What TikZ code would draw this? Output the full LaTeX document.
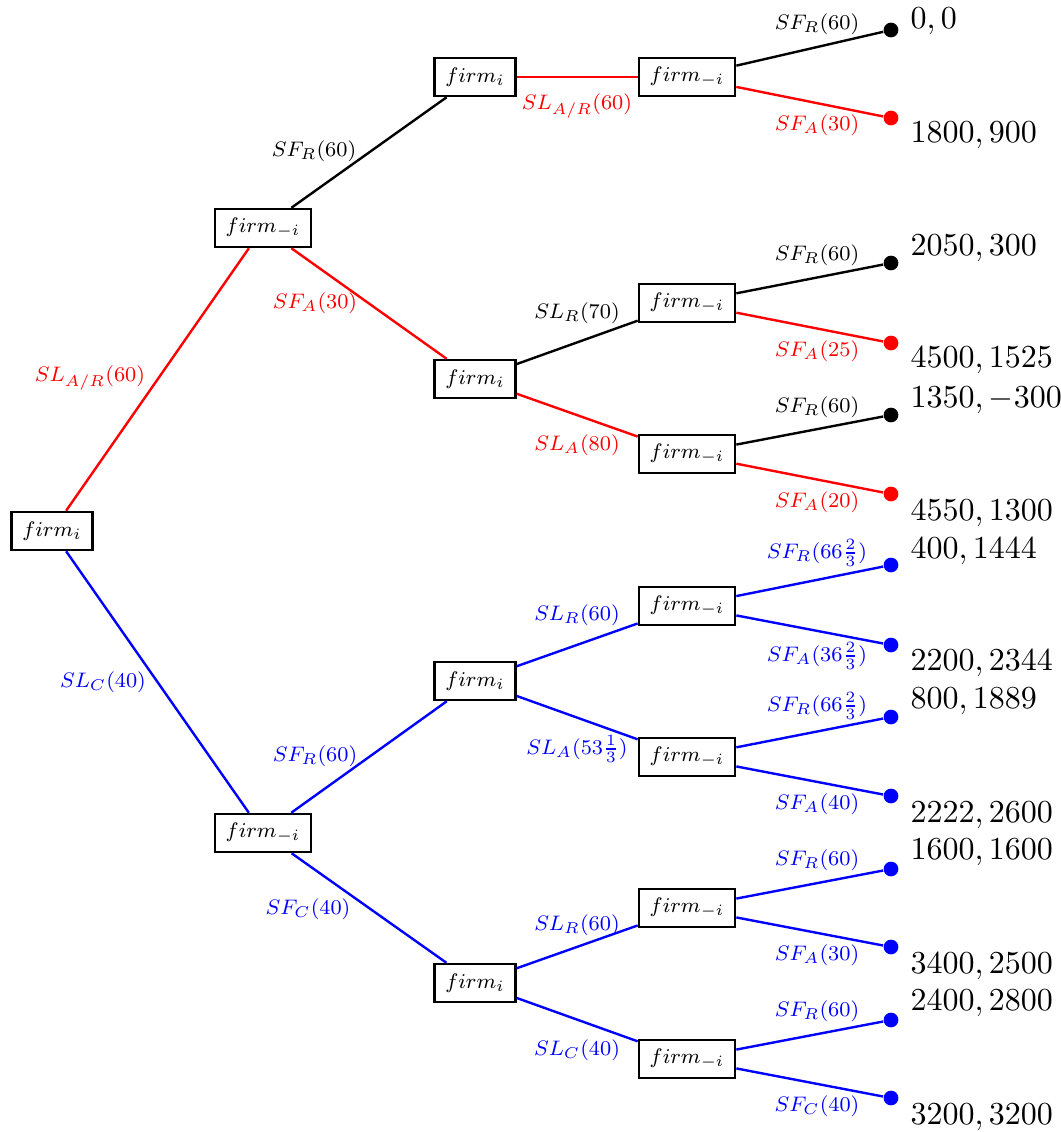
\documentclass[tikz,border=0pt]{standalone}
\usepackage{graphicx}
\newcommand{\smtxt}[1]{\scalebox{0.82}{\footnotesize$#1$}}
\begin{document}
\begin{tikzpicture}[x=0.3125pt,y=-0.3125pt,
  firmbox/.style={draw,line width=0.75pt,inner xsep=3.4pt,inner ysep=0pt,minimum height=11.9pt},
  leafdot/.style={circle,fill,inner sep=0pt,minimum size=4.6pt},
  edgelab/.style={inner sep=0pt},
  payoff/.style={anchor=base west,inner sep=0pt,font=\fontsize{9.7}{11}\selectfont},
  conn/.style={line width=0.75pt}]
\useasboundingbox (0,0) rectangle (1061,1132);
% decision nodes
\node[firmbox] (r) at (52,531) {\smtxt{firm_i}};
\node[firmbox] (a) at (263,228) {\smtxt{firm_{-i}}};
\node[firmbox] (b) at (263,833) {\smtxt{firm_{-i}}};
\node[firmbox] (a1) at (475,77) {\smtxt{firm_i}};
\node[firmbox] (a2) at (475,379) {\smtxt{firm_i}};
\node[firmbox] (b1) at (475,681) {\smtxt{firm_i}};
\node[firmbox] (b2) at (475,983) {\smtxt{firm_i}};
\node[firmbox] (c1) at (687,77) {\smtxt{firm_{-i}}};
\node[firmbox] (c2) at (687,303) {\smtxt{firm_{-i}}};
\node[firmbox] (c3) at (687,454) {\smtxt{firm_{-i}}};
\node[firmbox] (c4) at (687,606) {\smtxt{firm_{-i}}};
\node[firmbox] (c5) at (687,757) {\smtxt{firm_{-i}}};
\node[firmbox] (c6) at (687,908) {\smtxt{firm_{-i}}};
\node[firmbox] (c7) at (687,1059) {\smtxt{firm_{-i}}};
% leaves
\node[leafdot,black] (l1) at (891,30) {};
\node[leafdot,red] (l2) at (891,118) {};
\node[leafdot,black] (l3) at (891,263) {};
\node[leafdot,red] (l4) at (891,343) {};
\node[leafdot,black] (l5) at (891,415) {};
\node[leafdot,red] (l6) at (891,494) {};
\node[leafdot,blue] (l7) at (891,565) {};
\node[leafdot,blue] (l8) at (891,645) {};
\node[leafdot,blue] (l9) at (891,717) {};
\node[leafdot,blue] (l10) at (891,796) {};
\node[leafdot,blue] (l11) at (891,869) {};
\node[leafdot,blue] (l12) at (891,947) {};
\node[leafdot,blue] (l13) at (891,1020) {};
\node[leafdot,blue] (l14) at (891,1098) {};
% connectors
\draw[conn,red] (r) -- (a);
\draw[conn,blue] (r) -- (b);
\draw[conn,black] (a) -- (a1);
\draw[conn,red] (a) -- (a2);
\draw[conn,blue] (b) -- (b1);
\draw[conn,blue] (b) -- (b2);
\draw[conn,red] (a1) -- (c1);
\draw[conn,black] (a2) -- (c2);
\draw[conn,red] (a2) -- (c3);
\draw[conn,blue] (b1) -- (c4);
\draw[conn,blue] (b1) -- (c5);
\draw[conn,blue] (b2) -- (c6);
\draw[conn,blue] (b2) -- (c7);
\draw[conn,black] (c1) -- (l1);
\draw[conn,red] (c1) -- (l2);
\draw[conn,black] (c2) -- (l3);
\draw[conn,red] (c2) -- (l4);
\draw[conn,black] (c3) -- (l5);
\draw[conn,red] (c3) -- (l6);
\draw[conn,blue] (c4) -- (l7);
\draw[conn,blue] (c4) -- (l8);
\draw[conn,blue] (c5) -- (l9);
\draw[conn,blue] (c5) -- (l10);
\draw[conn,blue] (c6) -- (l11);
\draw[conn,blue] (c6) -- (l12);
\draw[conn,blue] (c7) -- (l13);
\draw[conn,blue] (c7) -- (l14);
% edge labels
\node[edgelab,red] (e1) at (90,378) {\smtxt{SL_{A/R}(60)}};
\node[edgelab,blue] (e2) at (103,682) {\smtxt{SL_C(40)}};
\node[edgelab,black] (e3) at (314,151) {\smtxt{SF_R(60)}};
\node[edgelab,red] (e4) at (315,303) {\smtxt{SF_A(30)}};
\node[edgelab,blue] (e5) at (315,756) {\smtxt{SF_R(60)}};
\node[edgelab,blue] (e6) at (308,909) {\smtxt{SF_C(40)}};
\node[edgelab,red] (e7) at (577,106) {\smtxt{SL_{A/R}(60)}};
\node[edgelab,black] (e8) at (577,313) {\smtxt{SL_R(70)}};
\node[edgelab,red] (e9) at (577,445) {\smtxt{SL_A(80)}};
\node[edgelab,blue] (e10) at (577,615) {\smtxt{SL_R(60)}};
\node[edgelab,blue] (e11) at (577,749) {\smtxt{SL_A(53\frac{1}{3})}};
\node[edgelab,blue] (e12) at (577,925) {\smtxt{SL_R(60)}};
\node[edgelab,blue] (e13) at (577,1050) {\smtxt{SL_C(40)}};
\node[edgelab,black] (f1) at (817,24) {\smtxt{SF_R(60)}};
\node[edgelab,red] (f2) at (817,125) {\smtxt{SF_A(30)}};
\node[edgelab,black] (f3) at (817,255) {\smtxt{SF_R(60)}};
\node[edgelab,red] (f4) at (817,351) {\smtxt{SF_A(25)}};
\node[edgelab,black] (f5) at (817,407) {\smtxt{SF_R(60)}};
\node[edgelab,red] (f6) at (817,502) {\smtxt{SF_A(20)}};
\node[edgelab,blue] (f7) at (817,553) {\smtxt{SF_R(66\frac{2}{3})}};
\node[edgelab,blue] (f8) at (817,656) {\smtxt{SF_A(36\frac{2}{3})}};
\node[edgelab,blue] (f9) at (817,706) {\smtxt{SF_R(66\frac{2}{3})}};
\node[edgelab,blue] (f10) at (817,804) {\smtxt{SF_A(40)}};
\node[edgelab,blue] (f11) at (817,860) {\smtxt{SF_R(60)}};
\node[edgelab,blue] (f12) at (817,955) {\smtxt{SF_A(30)}};
\node[edgelab,blue] (f13) at (817,1011) {\smtxt{SF_R(60)}};
\node[edgelab,blue] (f14) at (817,1106) {\smtxt{SF_C(40)}};
% payoffs
\node[payoff] (p1) at (910,28) {$0, 0$};
\node[payoff] (p2) at (910,142) {$1800, 900$};
\node[payoff] (p3) at (910,255) {$2050, 300$};
\node[payoff] (p4) at (910,367) {$4500, 1525$};
\node[payoff] (p5) at (910,407) {$1350, -300$};
\node[payoff] (p6) at (910,520) {$4550, 1300$};
\node[payoff] (p7) at (910,558) {$400, 1444$};
\node[payoff] (p8) at (910,670) {$2200, 2344$};
\node[payoff] (p9) at (910,708) {$800, 1889$};
\node[payoff] (p10) at (910,822) {$2222, 2600$};
\node[payoff] (p11) at (910,859) {$1600, 1600$};
\node[payoff] (p12) at (910,973) {$3400, 2500$};
\node[payoff] (p13) at (910,1010) {$2400, 2800$};
\node[payoff] (p14) at (910,1124) {$3200, 3200$};
\end{tikzpicture}
\end{document}
